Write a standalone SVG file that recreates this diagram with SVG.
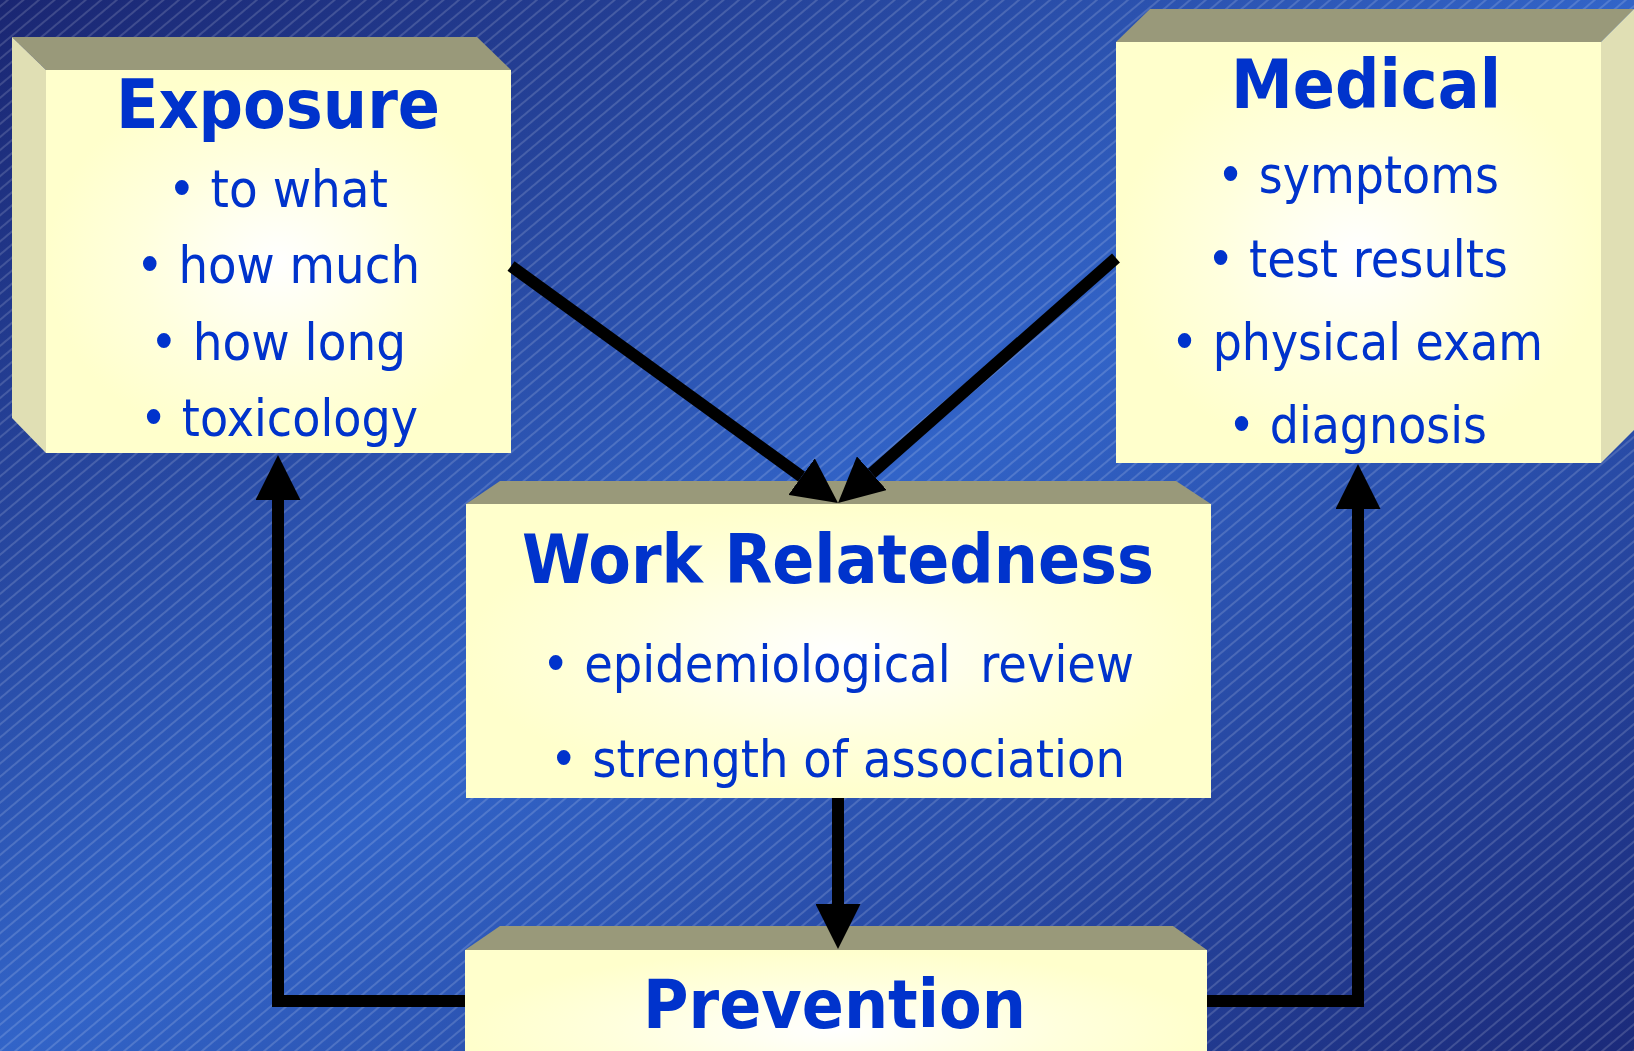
<svg xmlns="http://www.w3.org/2000/svg" width="1634" height="1051" viewBox="0 0 1634 1051">
<defs>
<linearGradient id="bg" x1="0" y1="0" x2="1" y2="1">
<stop offset="0" stop-color="#1a2672"/>
<stop offset="0.5" stop-color="#3264c8"/>
<stop offset="1" stop-color="#1b2a7a"/>
</linearGradient>
<pattern id="hatch" width="10" height="10" patternUnits="userSpaceOnUse" patternTransform="rotate(-40)">
<line x1="0" y1="5" x2="10" y2="5" stroke="#ffffff" stroke-opacity="0.3" stroke-width="1"/>
</pattern>
<radialGradient id="fg" cx="0.5" cy="0.5" r="0.5">
<stop offset="0" stop-color="#ffffff"/>
<stop offset="0.6" stop-color="#ffffdd"/>
<stop offset="1" stop-color="#ffffcc"/>
</radialGradient>
<marker id="ah" markerUnits="userSpaceOnUse" markerWidth="45" markerHeight="45" viewBox="0 0 45 45" refX="0" refY="22.5" orient="auto">
<path d="M0,0 L45,22.5 L0,45 z" fill="#000"/>
</marker>
<style>
.top{fill:#99997a}
.side{fill:#e0dfb4}
.front{fill:url(#fg)}
.title{font-family:"DejaVu Sans","Liberation Sans",sans-serif;font-weight:bold;font-size:67px;fill:#0033cc}
.item{font-family:"DejaVu Sans","Liberation Sans",sans-serif;font-size:51px;fill:#0033cc}
.conn{stroke:#000;stroke-width:12;fill:none;stroke-linejoin:miter;marker-end:url(#ah)}
</style>
</defs>
<rect x="0" y="0" width="1634" height="1051" fill="url(#bg)"/>
<rect x="0" y="0" width="1634" height="1051" fill="url(#hatch)"/>

<g id="exposure">
<polygon class="top" points="12,37 477,37 511,70 46,70"/>
<polygon class="side" points="12,37 46,70 46,453 12,418"/>
<rect class="front" x="46" y="70" width="465" height="383"/>
<text class="title" x="116" y="128" textLength="324" lengthAdjust="spacingAndGlyphs">Exposure</text>
<text class="item" x="168" y="207" textLength="220" lengthAdjust="spacingAndGlyphs">• to what</text>
<text class="item" x="136" y="283" textLength="284" lengthAdjust="spacingAndGlyphs">• how much</text>
<text class="item" x="150" y="360" textLength="256" lengthAdjust="spacingAndGlyphs">• how long</text>
<text class="item" x="140" y="436" textLength="278" lengthAdjust="spacingAndGlyphs">• toxicology</text>
</g>

<g id="medical">
<polygon class="top" points="1150,9 1634,9 1601,42 1116,42"/>
<polygon class="side" points="1601,42 1634,9 1634,430 1601,463"/>
<rect class="front" x="1116" y="42" width="485" height="421"/>
<text class="title" x="1231" y="108" textLength="270" lengthAdjust="spacingAndGlyphs">Medical</text>
<text class="item" x="1217" y="193" textLength="282" lengthAdjust="spacingAndGlyphs">• symptoms</text>
<text class="item" x="1207" y="277" textLength="301" lengthAdjust="spacingAndGlyphs">• test results</text>
<text class="item" x="1171" y="360" textLength="372" lengthAdjust="spacingAndGlyphs">• physical exam</text>
<text class="item" x="1228" y="443" textLength="259" lengthAdjust="spacingAndGlyphs">• diagnosis</text>
</g>

<g id="work-relatedness">
<polygon class="top" points="500,481 1176,481 1211,504 466,504"/>
<rect class="front" x="466" y="504" width="745" height="294"/>
<text class="title" x="522" y="583" textLength="632" lengthAdjust="spacingAndGlyphs">Work Relatedness</text>
<text class="item" x="542" y="682" textLength="592" lengthAdjust="spacingAndGlyphs" xml:space="preserve" style="white-space:pre">• epidemiological  review</text>
<text class="item" x="550" y="777" textLength="575" lengthAdjust="spacingAndGlyphs">• strength of association</text>
</g>

<g id="prevention">
<polygon class="top" points="500,926 1173,926 1207,950 465,950"/>
<rect class="front" x="465" y="950" width="742" height="160"/>
<text class="title" x="643" y="1028" textLength="383" lengthAdjust="spacingAndGlyphs">Prevention</text>
</g>

<g id="connectors">
<path class="conn" d="M511,266 L801.6,476.6"/>
<path class="conn" d="M1116,258 L871.8,473.2"/>
<path class="conn" d="M838,798 L838,904"/>
<path class="conn" d="M465,1001 L278,1001 L278,500"/>
<path class="conn" d="M1207,1001 L1358,1001 L1358,509"/>
</g>
</svg>
